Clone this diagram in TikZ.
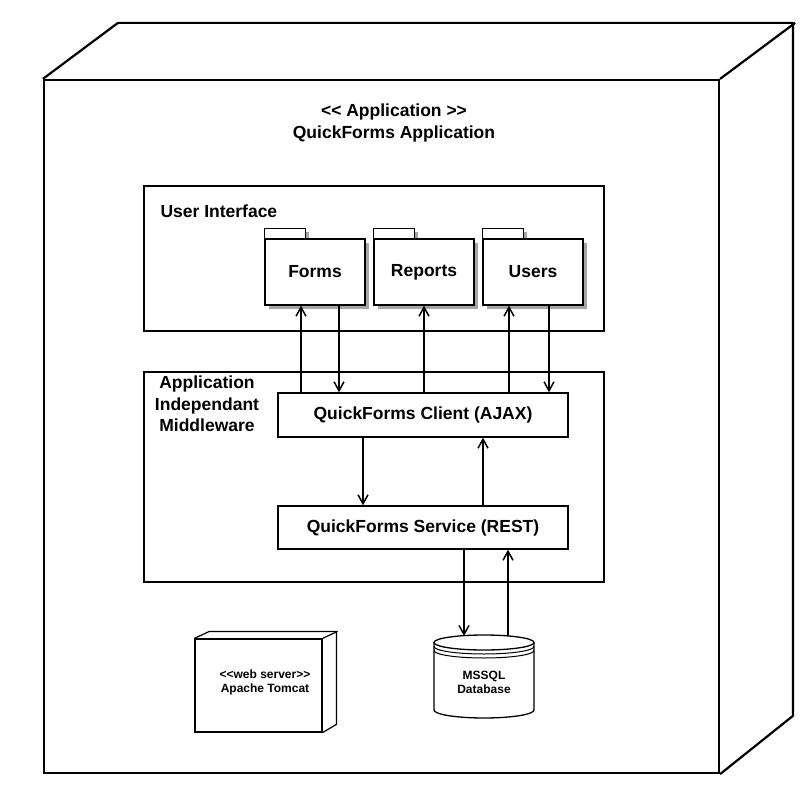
\documentclass[tikz,border=0pt]{standalone}
\usepackage{fontspec}
\newfontfamily\umlfont{Liberation Sans}
\usetikzlibrary{arrows.meta,shadows,backgrounds}

\tikzset{
  bigtext/.style={font=\umlfont\bfseries\fontsize{17.5}{21.5}\selectfont},
  smalltext/.style={font=\umlfont\bfseries\fontsize{12}{14}\selectfont},
  frame/.style={draw, line width=1.4pt, inner sep=0pt},
  pkgshadow/.style={drop shadow={shadow xshift=4pt, shadow yshift=-4pt, fill=black!35, opacity=1}},
  package/.style={frame, bigtext, fill=white, minimum width=100, minimum height=66, pkgshadow},
  pkgtab/.style={draw, line width=1.4pt, fill=white, pkgshadow},
  component/.style={frame, bigtext, minimum width=290, minimum height=44},
  flow/.style={line width=1.5pt, -{Straight Barb[length=9pt,width=10pt]}},
}

\begin{document}
\begin{tikzpicture}[x=1pt, y=-1pt]
    \useasboundingbox (0,0) rectangle (809,789);

    \node[frame, line width=2.2pt, minimum width=675, minimum height=693] (app) at (381.5,426.5) {};
    \draw[line width=2.2pt, line join=round] (app.north west) -- ++(75,-56) -- ++(675,0) -- ++(0,693) -- (app.south east);
    \draw[line width=2.2pt] (app.north east) -- ++(75,-56);
    \node[bigtext, align=center] (title) at (394,123) {<< Application >>\\QuickForms Application};

    \node[frame, minimum width=460, minimum height=145] (ui) at (374,258.5) {};
    \node[bigtext, anchor=west] (uilabel) at (157,211) {User Interface};
    \node[package] (forms) at (315,272) {Forms};
    \node[package] (reports) at (424,272) {Reports};
    \node[package] (users) at (533,272) {Users};
    \begin{scope}[on background layer]
        \foreach \p in {forms,reports,users}
            \filldraw[pkgtab] (\p.north west) rectangle ++(41,-10);
    \end{scope}

    \node[frame, minimum width=460, minimum height=210] (mw) at (374,477) {};
    \node[bigtext, align=center] (mwlabel) at (207,404) {Application\\Independant\\Middleware};
    \node[component] (client) at (423,415) {QuickForms Client (AJAX)};
    \node[component, minimum height=43] (service) at (423,527.5) {QuickForms Service (REST)};

    \node[frame, line width=1.2pt, minimum width=127, minimum height=93] (tomcat) at (258.5,685.5) {};
    \draw[line width=1.2pt] (tomcat.north west) -- ++(15,-7) -- ++(127,0) -- ++(0,93) -- (tomcat.south east);
    \draw[line width=1.2pt] (tomcat.north east) -- ++(15,-7);
    \node[smalltext, align=center] (tomcatlabel) at (265,682) {<<web server>>\\Apache Tomcat};

    \draw[line width=1.3pt] (434,642.5) -- (434,710) arc[start angle=180, end angle=0, x radius=50, y radius=8] -- (534,642.5);
    \draw[line width=1.3pt] (484,642.5) ellipse [x radius=50, y radius=7.5];
    \draw[line width=1pt] (434,646.5) arc[start angle=180, end angle=0, x radius=50, y radius=7.5];
    \draw[line width=1pt] (434,650.5) arc[start angle=180, end angle=0, x radius=50, y radius=7.5];
    \node[smalltext, align=center] (db) at (484,682) {MSSQL\\Database};
    \coordinate (dbtop) at (484,636);

    \draw[flow] (client.north -| 301,0) -- (forms.south -| 301,0);
    \draw[flow] (forms.south -| 339,0) -- (client.north -| 339,0);
    \draw[flow] (client.north -| 424,0) -- (reports.south -| 424,0);
    \draw[flow] (client.north -| 509,0) -- (users.south -| 509,0);
    \draw[flow] (users.south -| 549,0) -- (client.north -| 549,0);
    \draw[flow] (client.south -| 363,0) -- (service.north -| 363,0);
    \draw[flow] (service.north -| 483,0) -- (client.south -| 483,0);
    \draw[flow] (service.south -| 464,0) -- (dbtop -| 464,0);
    \draw[flow] (dbtop -| 508,0) -- (service.south -| 508,0);
\end{tikzpicture}
\end{document}
